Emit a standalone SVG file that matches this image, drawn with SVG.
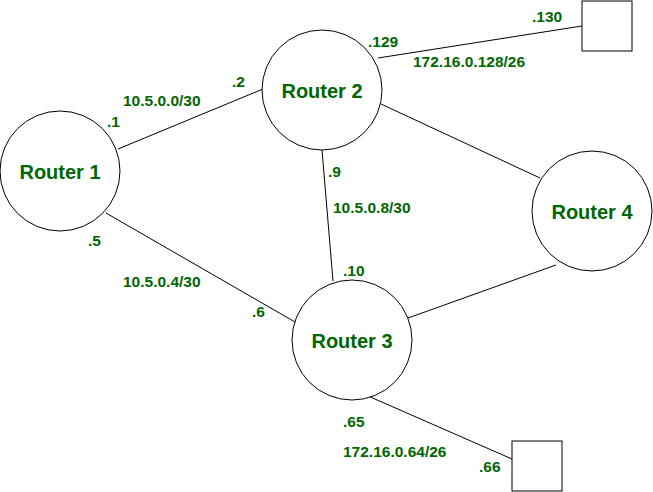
<svg xmlns="http://www.w3.org/2000/svg" width="653" height="492" viewBox="0 0 653 492">
<style>
.n{fill:#fff;stroke:#000;stroke-width:1}
.t{font-family:"Liberation Sans",Arial,sans-serif;font-weight:bold;fill:#006600}
.r{font-size:20px;text-anchor:middle}
.l{font-size:15.5px}
.c line{stroke:#000;stroke-width:1}
</style>
<rect width="653" height="492" fill="#fff"/>
<g class="c" id="connectors">
<line x1="118" y1="149" x2="263" y2="89"/>
<line x1="106" y1="213" x2="295" y2="322"/>
<line x1="322" y1="150" x2="333" y2="281"/>
<line x1="381" y1="104" x2="540" y2="178"/>
<line x1="408" y1="318" x2="556" y2="265"/>
<line x1="378" y1="58" x2="582" y2="26"/>
<line x1="368" y1="396" x2="512" y2="459"/>
</g>
<g id="router1"><circle class="n" cx="60" cy="171" r="60"/><text class="t r" x="60" y="179">Router 1</text></g>
<g id="router2"><circle class="n" cx="322" cy="90" r="60"/><text class="t r" x="322" y="98">Router 2</text></g>
<g id="router3"><circle class="n" cx="352" cy="340" r="60"/><text class="t r" x="352" y="348">Router 3</text></g>
<g id="router4"><circle class="n" cx="592" cy="211" r="60"/><text class="t r" x="592" y="219">Router 4</text></g>
<g id="host1"><rect class="n" x="582" y="1" width="50" height="50"/></g>
<g id="host2"><rect class="n" x="512" y="441" width="50" height="50"/></g>
<g id="labels" class="t l">
<text x="107" y="127">.1</text>
<text x="232" y="87">.2</text>
<text x="123" y="106">10.5.0.0/30</text>
<text x="88" y="246">.5</text>
<text x="123" y="287">10.5.0.4/30</text>
<text x="252" y="317">.6</text>
<text x="328" y="177">.9</text>
<text x="333" y="213">10.5.0.8/30</text>
<text x="343" y="276">.10</text>
<text x="368" y="47">.129</text>
<text x="532" y="22">.130</text>
<text x="413" y="67">172.16.0.128/26</text>
<text x="343" y="427">.65</text>
<text x="343" y="457">172.16.0.64/26</text>
<text x="479" y="472">.66</text>
</g>
</svg>
